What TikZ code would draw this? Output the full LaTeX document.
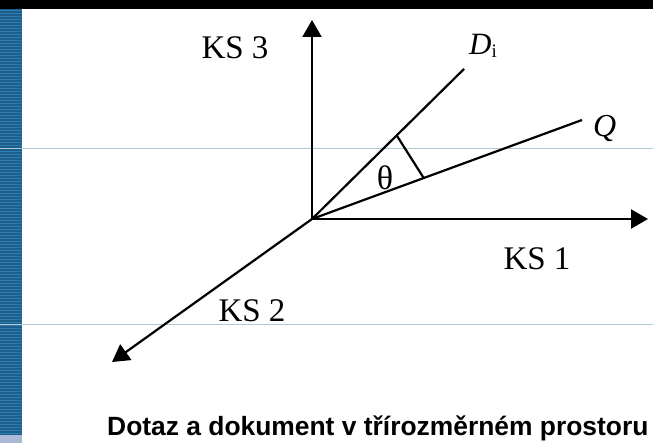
\documentclass[tikz,border=0pt]{standalone}
\usepackage{fontspec}
\setmainfont{Liberation Serif}
\newfontfamily\capfont{Liberation Sans}
\usetikzlibrary{arrows.meta,calc}

\definecolor{barblue}{HTML}{1C5E8C}
\definecolor{barstripe}{HTML}{2E7DAE}
\definecolor{barfoot}{HTML}{A9B9D6}
\definecolor{ruleline}{HTML}{B5C8D1}

\tikzset{
    axis/.style={line width=2.2pt,-{Triangle[length=17pt,width=19pt]}},
    ray/.style={line width=2.2pt},
    lbl/.style={inner sep=0pt,anchor=base,font=\fontsize{33}{33}\selectfont}
}

\begin{document}
\begin{tikzpicture}[x=1pt,y=-1pt]
        \useasboundingbox (0,0) rectangle (653,443);
        % slide frame
        \fill[black] (0,0) rectangle (653,9);
        \fill[barblue] (0,9) rectangle (22,435);
        \foreach \y in {10,13,...,433}
            \fill[barstripe] (0,\y) rectangle (22,\y+1.2);
        \fill[barfoot] (0,435) rectangle (22,443);
        \draw[ruleline,line width=1pt] (0,149) -- (653,149);
        \draw[ruleline,line width=1pt] (0,325) -- (653,325);

        % axes
        \coordinate (o) at (312,219);
        \coordinate (ks1tip) at (648,219);
        \coordinate (ks2tip) at (112,362);
        \coordinate (ks3tip) at (312,20);
        \draw[axis] (o) -- (ks1tip);
        \draw[axis] (o) -- (ks2tip);
        \draw[axis] (o) -- (ks3tip);

        % document and query vectors
        \coordinate (dend) at (464,69);
        \coordinate (qend) at (582,120);
        \draw[ray] (o) -- (dend);
        \draw[ray] (o) -- (qend);
        \draw[ray] ($(o)!119pt!(dend)$) -- ($(o)!119pt!(qend)$);

        \node[lbl] (ks3) at (235,59) {KS 3};
        \node[lbl] (ks1) at (537,270) {KS 1};
        \node[lbl] (ks2) at (252,322) {KS 2};
        \node[lbl,anchor=base west,font=\fontsize{31}{31}\selectfont] (di) at (469,55)
            {\itshape D\upshape\raisebox{-3pt}{\fontsize{19}{19}\selectfont i}};
        \node[lbl,anchor=base west,font=\fontsize{32}{32}\selectfont\itshape] (q) at (593,137) {Q};
        \node[lbl,font=\fontsize{34}{34}\selectfont] (theta) at (385,190) {θ};

        \node[inner sep=0pt,anchor=base west,font=\capfont\bfseries\fontsize{26.4}{26.4}\selectfont] (caption) at (107,435)
            {Dotaz a dokument v třírozměrném prostoru};
    \end{tikzpicture}
\end{document}
